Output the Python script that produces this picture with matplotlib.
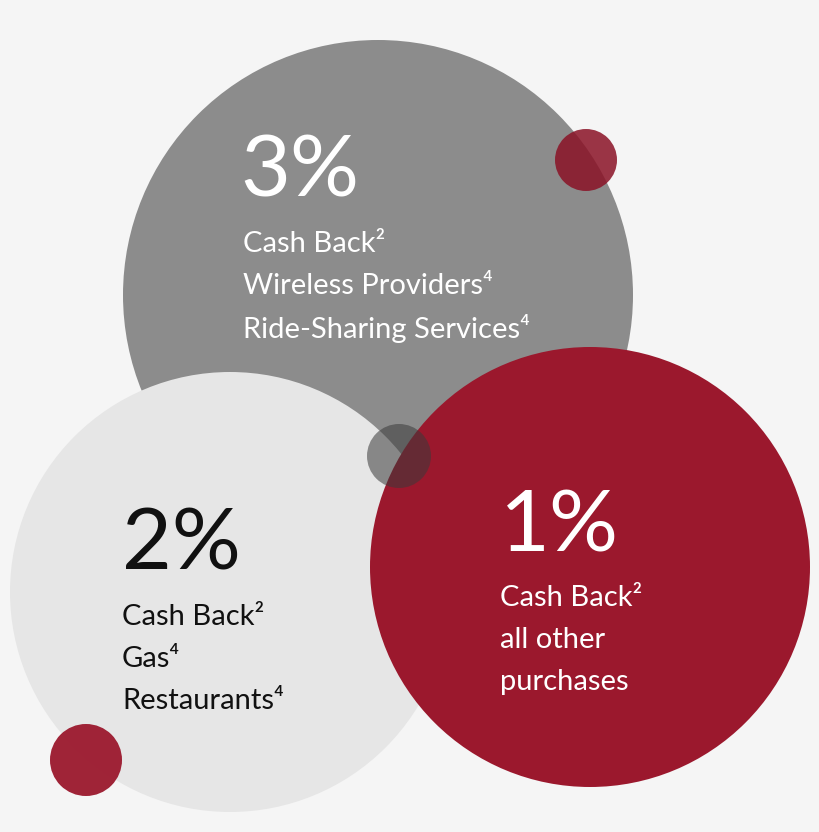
import matplotlib.pyplot as plt
from matplotlib.patches import Circle

plt.rcParams['font.family'] = ['Lato', 'DejaVu Sans']

# circles: (x, y, radius, colour, alpha) in pixel space, y down
big_circles = [(378, 295, 255, '#8c8c8c', 1.0),
               (230, 592, 220, '#e6e6e6', 1.0),
               (590, 567, 220, '#9b182d', 1.0)]
dots = [(586, 160, 31, '#8a1226', 0.85),
        (399, 456, 32, '#3a3a3a', 0.55),
        (86, 760, 36, '#9b182d', 0.95)]

rates = ['3%', '2%', '1%']
rate_pos = [(240, 172), (122, 545), (500, 527)]
rate_colors = ['white', '#111111', 'white']
details = [['Cash Back²', 'Wireless Providers⁴', 'Ride-Sharing Services⁴'],
           ['Cash Back²', 'Gas⁴', 'Restaurants⁴'],
           ['Cash Back²', 'all other', 'purchases']]
detail_pos = [(243, 244), (122, 617), (500, 598)]

fig = plt.figure(figsize=(8.2, 8.32), dpi=100)
fig.patch.set_facecolor('#f5f5f5')
ax = fig.add_axes([0, 0, 1, 1])
ax.set_xlim(0, 820)
ax.set_ylim(832, 0)
ax.set_aspect('equal')
ax.axis('off')

for x, y, r, c, a in big_circles + dots:
    ax.add_patch(Circle((x, y), r, color=c, alpha=a, lw=0))

for t, (x, y), c in zip(rates, rate_pos, rate_colors):
    ax.text(x, y, t, fontsize=62, color=c, va='center', ha='left')
for lines, (x, y), c in zip(details, detail_pos, rate_colors):
    for i, line in enumerate(lines):
        ax.text(x, y + i * 42, line, fontsize=21, color=c, va='center', ha='left')

fig.savefig('out.png', dpi=100, facecolor=fig.get_facecolor())
